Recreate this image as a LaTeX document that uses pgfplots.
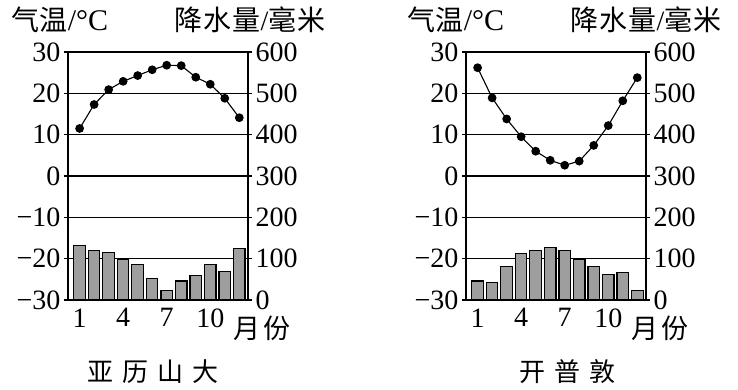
\documentclass[border=0pt]{standalone}
\usepackage{fontspec}
\setmainfont{Liberation Serif}
\newfontfamily\cjk{Noto Sans CJK SC}
\usepackage{pgfplots}
\pgfplotsset{compat=1.18}
\pgfplotstableread{
m t p
1 11.5 132
2 17.3 119
3 20.9 115
4 22.9 99
5 24.3 85
6 25.7 51
7 26.8 22
8 26.7 46
9 23.9 60
10 22.2 85
11 18.8 70
12 14.1 124
}\alex
\pgfplotstableread{
m t p
1 26.2 46
2 18.9 42
3 13.8 80
4 9.5 112
5 6.0 119
6 3.8 128
7 2.6 119
8 3.6 99
9 7.4 82
10 12.2 61
11 18.2 67
12 23.8 22
}\cape
\pgfplotsset{
  tempax/.style={
    scale only axis, width=180pt, height=248pt,
    xmin=0.2, xmax=12.6, ymin=-30, ymax=30,
    xtick={1,4,7,10}, xtick style={draw=none},
    ytick={-30,-20,...,30},
    yticklabels={−30,−20,−10,0,10,20,30},
    ytick pos=left, tick align=outside, major tick length=4pt,
    ymajorgrids, grid style={black, line width=1.2pt},
    axis line style={line width=1.3pt},
    tick style={black, line width=1.1pt},
    /pgf/number format/assume math mode=true,
    tick label style={font=\fontsize{28}{28}\selectfont},
    xticklabel style={yshift=-1pt},
  },
  precax/.style={
    scale only axis, width=180pt, height=248pt,
    xmin=0.2, xmax=12.6, ymin=0, ymax=600,
    axis y line*=right, axis x line=none,
    ytick={0,100,...,600},
    tick align=outside, major tick length=4pt,
    axis line style={line width=1.3pt},
    tick style={black, line width=1.1pt},
    /pgf/number format/assume math mode=true,
    tick label style={font=\fontsize{28}{28}\selectfont},
  },
  barst/.style={ybar, bar width=11.5pt, fill=black!38, draw=black, line width=1.1pt},
  linest/.style={black, line width=1.1pt, mark=*, mark size=3.8pt, mark options={fill=black}},
}
\newcommand\tq{{\fontsize{28}{28}\selectfont\cjk 气温}{\fontsize{30}{30}\selectfont /°C}}
\newcommand\js{{\fontsize{28}{28}\selectfont\cjk 降\hspace{1pt}水\hspace{1pt}量}{\fontsize{28}{28}\selectfont /}{\fontsize{28}{28}\selectfont\cjk 毫\hspace{1pt}米}}
\begin{document}
\begin{tikzpicture}[x=1pt,y=1pt]
\useasboundingbox (0,0) rectangle (738,389);
% left chart
\begin{axis}[tempax, at={(68pt,89pt)}, anchor=south west]
\addplot[linest] table[x=m,y=t]{\alex};
\end{axis}
\begin{axis}[precax, at={(68pt,89pt)}, anchor=south west]
\addplot[barst] table[x=m,y=p]{\alex};
\end{axis}
% right chart
\begin{axis}[tempax, at={(466pt,89pt)}, anchor=south west]
\addplot[linest] table[x=m,y=t]{\cape};
\end{axis}
\begin{axis}[precax, at={(466pt,89pt)}, anchor=south west]
\addplot[barst] table[x=m,y=p]{\cape};
\end{axis}
% texts
\node[inner sep=0pt] at (60,369) {\tq};
\node[inner sep=0pt] at (250,369) {\js};
\node[inner sep=0pt] at (456,369) {\tq};
\node[inner sep=0pt] at (646,369) {\js};
\node[inner sep=0pt, font=\fontsize{27}{27}\selectfont\cjk] at (262,61) {月\hspace{3pt}份};
\node[inner sep=0pt, font=\fontsize{27}{27}\selectfont\cjk] at (660,61) {月\hspace{3pt}份};
\node[inner sep=0pt, font=\fontsize{26}{26}\selectfont\cjk] at (153,17) {亚\hspace{9pt}历\hspace{9pt}山\hspace{9pt}大};
\node[inner sep=0pt, font=\fontsize{26}{26}\selectfont\cjk] at (567,17) {开\hspace{9pt}普\hspace{9pt}敦};
\end{tikzpicture}
\end{document}
